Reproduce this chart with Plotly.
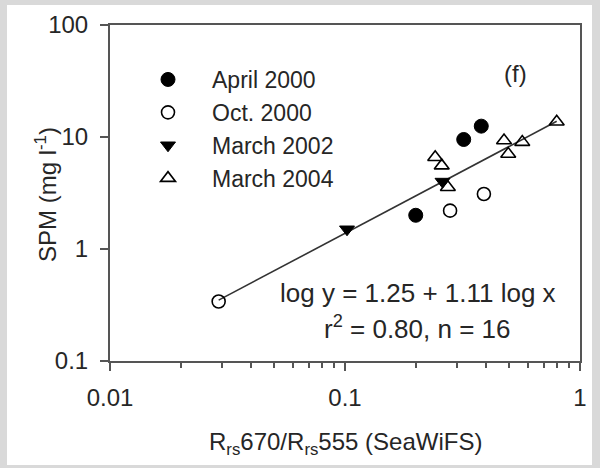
import numpy as np
import plotly.graph_objects as go

# SPM vs. SeaWiFS band ratio, four campaigns
apr2000_x = [0.20, 0.32, 0.38]
apr2000_y = [2.0, 9.5, 12.5]
oct2000_x = [0.029, 0.28, 0.39]
oct2000_y = [0.34, 2.2, 3.1]
mar2002_x = [0.102, 0.26]
mar2002_y = [1.5, 4.0]
mar2004_x = [0.242, 0.258, 0.274, 0.475, 0.495, 0.568, 0.796]
mar2004_y = [6.6, 5.55, 3.56, 9.3, 7.05, 9.0, 13.7]

fit_a, fit_b = 1.25, 1.11  # log y = a + b log x

x_ticks = [0.01, 0.1, 1]
x_ticktext = ["0.01", "0.1", "1"]
x_minor = [k * 10.0 ** e for e in (-2, -1) for k in range(2, 10)]
y_ticks = [0.1, 1, 10, 100]
y_ticktext = ["0.1", "1", "10", "100"]

FONT = "Liberation Sans, Arial, sans-serif"
TXT = "#262626"
AX = "#555555"

all_x = apr2000_x + oct2000_x + mar2002_x + mar2004_x
fx = np.logspace(np.log10(min(all_x)), np.log10(max(all_x)), 50)
fy = 10 ** (fit_a + fit_b * np.log10(fx))

fig = go.Figure()
fig.add_trace(go.Scatter(x=fx, y=fy, mode="lines", showlegend=False,
                         line=dict(color="#333333", width=1.6), hoverinfo="skip"))
fig.add_trace(go.Scatter(x=apr2000_x, y=apr2000_y, mode="markers", name="April 2000",
                         marker=dict(symbol="circle", size=14, color="black",
                                     line=dict(color="black", width=1))))
fig.add_trace(go.Scatter(x=oct2000_x, y=oct2000_y, mode="markers", name="Oct. 2000",
                         marker=dict(symbol="circle-open", size=13, color="black",
                                     line=dict(color="black", width=1.6))))
fig.add_trace(go.Scatter(x=mar2002_x, y=mar2002_y, mode="markers", name="March 2002",
                         marker=dict(symbol="triangle-down", size=13, color="black",
                                     line=dict(color="black", width=1))))
fig.add_trace(go.Scatter(x=mar2004_x, y=mar2004_y, mode="markers", name="March 2004",
                         marker=dict(symbol="triangle-up-open", size=13, color="black",
                                     line=dict(color="black", width=1.6))))

L, R, T, B = 110, 20, 25, 107
W, H = 600, 468
pw, ph = W - L - R, H - T - B


def px(x):
    return (x - L) / pw


def py(y):
    return (H - B - y) / ph


def label(text, x, y, size=25, angle=0):
    return dict(text=text, xref="paper", yref="paper", x=px(x), y=py(y),
                xanchor="center", yanchor="middle", showarrow=False,
                textangle=angle, font=dict(size=size, color=TXT))


fig.update_layout(
    width=W, height=H,
    margin=dict(l=L, r=R, t=T, b=B),
    paper_bgcolor="#d9d9d9",
    plot_bgcolor="white",
    font=dict(family=FONT, size=24, color=TXT),
    showlegend=True,
    legend=dict(x=px(124), y=py(58), xanchor="left", yanchor="top",
                bgcolor="rgba(0,0,0,0)", font=dict(size=23, color=TXT),
                itemwidth=78, tracegroupgap=0),
    shapes=[dict(type="rect", xref="paper", yref="paper", layer="below",
                 x0=px(7), x1=px(592), y0=py(465), y1=py(5),
                 fillcolor="white", line=dict(width=0))],
    annotations=[
        label("(f)", 515, 73, size=24),
        label("log y = 1.25 + 1.11 log x", 418, 293, size=26),
        label("r<sup>2</sup> = 0.80, n = 16", 417, 327, size=26),
        label("SPM (mg l<sup>-1</sup>)", 46, 195, size=24, angle=-90),
        label("R<sub>rs</sub>670/R<sub>rs</sub>555 (SeaWiFS)", 345, 443, size=24),
    ],
)

fig.update_xaxes(
    type="log", range=[-2, 0],
    tickvals=x_ticks, ticktext=x_ticktext,
    ticks="outside", ticklen=8, tickwidth=1.5, tickcolor=AX,
    ticklabelstandoff=6,
    minor=dict(ticks="outside", ticklen=5, tickwidth=1.5, tickcolor=AX,
               tickvals=x_minor, showgrid=False),
    showline=True, linecolor=AX, linewidth=2, mirror=True,
    showgrid=False, zeroline=False,
    tickfont=dict(size=24, color=TXT),
)
fig.update_yaxes(
    type="log", range=[-1, 2],
    tickvals=y_ticks, ticktext=y_ticktext,
    ticks="outside", ticklen=8, tickwidth=1.5, tickcolor=AX,
    ticklabelstandoff=7,
    showline=True, linecolor=AX, linewidth=2, mirror=True,
    showgrid=False, zeroline=False,
    tickfont=dict(size=24, color=TXT),
)

fig.write_html("out.html")
